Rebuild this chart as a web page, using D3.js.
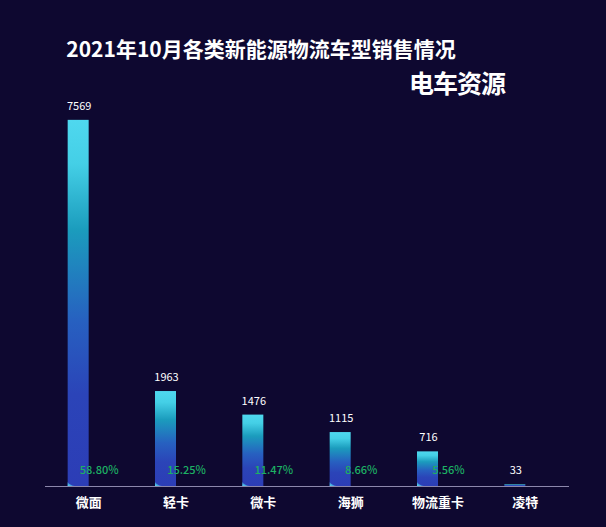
<!DOCTYPE html>
<html>
<head>
<meta charset="utf-8">
<script src="https://cdn.jsdelivr.net/npm/d3@7"></script>
<style>
  html, body { margin: 0; padding: 0; background: #0e0830; }
  svg { display: block; font-family: "Noto Sans CJK SC", "Noto Sans", sans-serif; }
</style>
</head>
<body>
<div id="chart"></div>
<script>
// Data
const categories = ["微面", "轻卡", "微卡", "海狮", "物流重卡", "凌特"];
const sales = [7569, 1963, 1476, 1115, 716, 33];
const shares = ["58.80%", "15.25%", "11.47%", "8.66%", "5.56%", null];

const width = 606, height = 527;
const margin = { top: 99, right: 37, bottom: 41, left: 45 };
const baseY = height - margin.bottom;

const svg = d3.select("#chart").append("svg")
    .attr("width", width)
    .attr("height", height);

svg.append("rect")
    .attr("width", width)
    .attr("height", height)
    .attr("fill", "#0e0830");

// Bar gradient, relative to each bar
const defs = svg.append("defs");
const grad = defs.append("linearGradient")
    .attr("id", "barGrad")
    .attr("x1", 0).attr("y1", 0).attr("x2", 0).attr("y2", 1);
[[0, "#4fd8ef"], [0.12, "#44cfe6"], [0.3, "#1b9cbd"], [0.55, "#2760c0"], [0.75, "#2b44b8"], [1, "#2c3db6"]]
    .forEach(([o, c]) => grad.append("stop").attr("offset", o).attr("stop-color", c));

const glow = defs.append("linearGradient")
    .attr("id", "glowGrad")
    .attr("x1", 0).attr("y1", 1).attr("x2", 1).attr("y2", 0);
glow.append("stop").attr("offset", 0).attr("stop-color", "#5fe3f3");
glow.append("stop").attr("offset", 1).attr("stop-color", "#3aa8e0").attr("stop-opacity", 0);

// Scales
const x = d3.scaleBand()
    .domain(categories)
    .range([margin.left, width - margin.right]);

const y = d3.scaleLinear()
    .domain([0, 8000])
    .range([baseY, margin.top]);

const barW = 21;

// Title
svg.append("text")
    .attr("x", 261)
    .attr("y", 57)
    .attr("text-anchor", "middle")
    .attr("fill", "#ffffff")
    .attr("font-size", 21)
    .attr("font-weight", "bold")
    .text("2021年10月各类新能源物流车型销售情况");

// Logo text
svg.append("text")
    .attr("x", 505)
    .attr("y", 93)
    .attr("text-anchor", "end")
    .attr("fill", "#ffffff")
    .attr("font-size", 25)
    .attr("font-weight", "bold")
    .attr("letter-spacing", -1)
    .text("电车资源");

const rows = categories.map((c, i) => ({ cat: c, value: sales[i], share: shares[i] }));
const center = d => x(d.cat) + x.bandwidth() / 2;

// Bars
svg.append("g").selectAll("rect")
    .data(rows)
    .join("rect")
    .attr("x", d => center(d) - barW)
    .attr("y", d => y(d.value))
    .attr("width", barW)
    .attr("height", d => baseY - y(d.value))
    .attr("fill", "url(#barGrad)");

// Small glow wedge at the bottom-left of each bar
svg.append("g").selectAll("path")
    .data(rows.filter(d => baseY - y(d.value) > 8))
    .join("path")
    .attr("d", d => {
        const x0 = center(d) - barW;
        return `M${x0},${baseY} L${x0 + 7},${baseY} Q${x0 + 2},${baseY - 1} ${x0},${baseY - 4} Z`;
    })
    .attr("fill", "url(#glowGrad)");

// Axis line
svg.append("line")
    .attr("x1", margin.left)
    .attr("x2", width - margin.right)
    .attr("y1", baseY + 0.5)
    .attr("y2", baseY + 0.5)
    .attr("stroke", "#8c87ab")
    .attr("stroke-width", 1);

// Category labels
svg.append("g").selectAll("text")
    .data(rows)
    .join("text")
    .attr("x", d => center(d))
    .attr("y", baseY + 21)
    .attr("text-anchor", "middle")
    .attr("fill", "#ffffff")
    .attr("font-size", 13)
    .attr("font-weight", "bold")
    .text(d => d.cat);

// Value labels
svg.append("g").selectAll("text")
    .data(rows)
    .join("text")
    .attr("x", d => center(d) - barW / 2 + 1)
    .attr("y", d => y(d.value) - 10)
    .attr("text-anchor", "middle")
    .attr("fill", "#ffffff")
    .attr("font-size", 11)
    .text(d => d.value);

// Share labels
svg.append("g").selectAll("text")
    .data(rows.filter(d => d.share))
    .join("text")
    .attr("x", d => center(d) + barW / 2)
    .attr("y", baseY - 12)
    .attr("text-anchor", "middle")
    .attr("fill", "#1db064")
    .attr("font-size", 11)
    .attr("font-weight", 500)
    .text(d => d.share);
</script>
</body>
</html>
